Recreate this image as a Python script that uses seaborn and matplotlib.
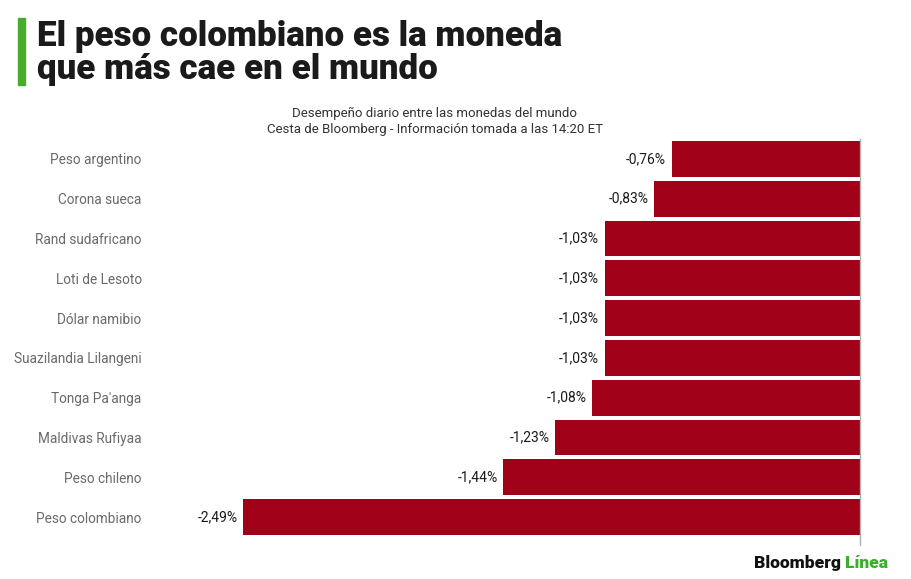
import matplotlib
matplotlib.use("Agg")
import matplotlib.pyplot as plt
import seaborn as sns
import pandas as pd

# datos
monedas = ["Peso argentino", "Corona sueca", "Rand sudafricano", "Loti de Lesoto",
           "Dólar namibio", "Suazilandia Lilangeni", "Tonga Pa'anga",
           "Maldivas Rufiyaa", "Peso chileno", "Peso colombiano"]
cambios = [-0.76, -0.83, -1.03, -1.03, -1.03, -1.03, -1.08, -1.23, -1.44, -2.49]

df = pd.DataFrame({"moneda": monedas, "cambio": cambios})

sns.set_theme(style="white")
plt.rcParams["font.family"] = ["Roboto", "DejaVu Sans"]

fig = plt.figure(figsize=(9.12, 5.79), dpi=100)
W, H = 912, 579
ax = fig.add_axes([150 / W, 34 / H, 710 / W, 406 / H])

sns.barplot(data=df, x="cambio", y="moneda", orient="h", color="#a00018",
            saturation=1, width=0.9, linewidth=0, ax=ax)

ax.set_xlim(-2.865, 0)
ax.set_ylim(9.7, -0.5)
ax.set_xlabel("")
ax.set_ylabel("")
ax.set_xticks([])
for s in ["top", "left", "bottom"]:
    ax.spines[s].set_visible(False)
ax.spines["right"].set_color("#b0b0b0")
ax.spines["right"].set_linewidth(1)
ax.tick_params(axis="y", length=0, pad=6, labelcolor="#6a6a6a", labelsize=9.8)

# etiquetas de valor
for i, v in enumerate(cambios):
    ax.annotate(f"{v:.2f}%".replace(".", ","), xy=(v, i), xytext=(-4, 0),
                textcoords="offset points", ha="right", va="center",
                fontsize=10, color="#1a1a1a")

# titulo
fig.patches.append(plt.Rectangle((18 / W, 1 - 85 / H), 7 / W, 67 / H,
                                 transform=fig.transFigure, color="#4aac2c"))
fig.text(37 / W, 1 - 46 / H, "El peso colombiano es la moneda", fontsize=25.2,
         fontweight="heavy", color="#1a1a1a", va="baseline")
fig.text(37 / W, 1 - 79 / H, "que más cae en el mundo", fontsize=25.2,
         fontweight="heavy", color="#1a1a1a", va="baseline")

# subtitulo
fig.text(435 / W, 1 - 113 / H, "Desempeño diario entre las monedas del mundo",
         fontsize=9.5, color="#333333", ha="center", va="center")
fig.text(435 / W, 1 - 130 / H, "Cesta de Bloomberg - Información tomada a las 14:20 ET",
         fontsize=9.5, color="#333333", ha="center", va="center")

# logo
t1 = fig.text(754 / W, 1 - 563 / H, "Bloomberg ", fontsize=12.5, fontweight="heavy",
              color="#111111", va="center")
fig.canvas.draw()
bb = t1.get_window_extent()
fig.text(bb.x1 / W, 1 - 563 / H, "Línea", fontsize=12.5, fontweight="heavy",
         color="#3aae2a", va="center")

fig.savefig("out.png", dpi=100)
